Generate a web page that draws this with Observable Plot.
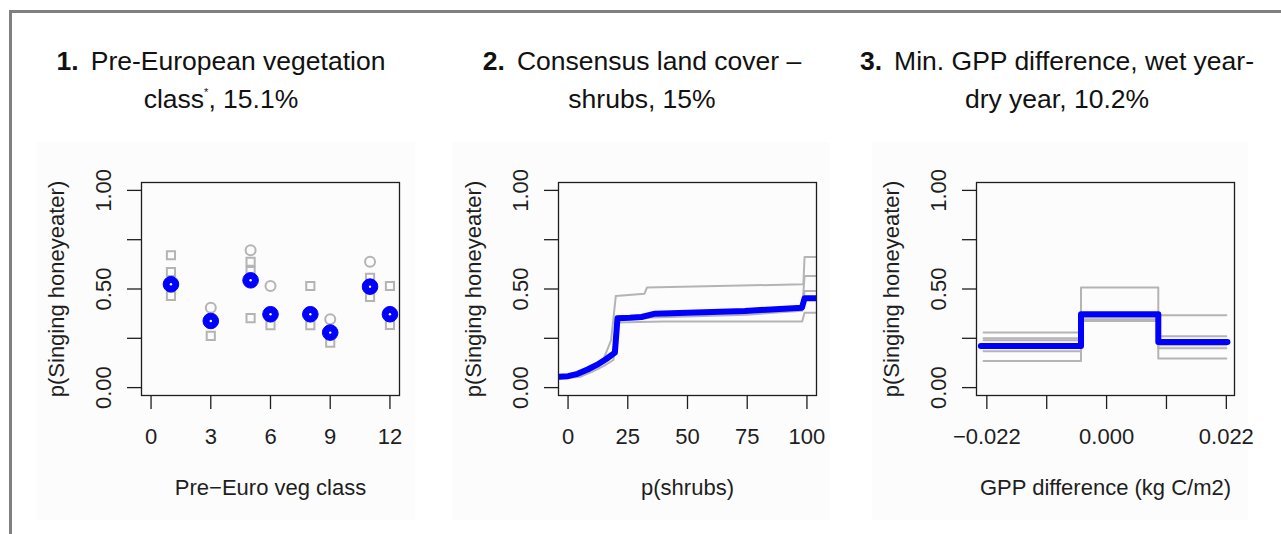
<!DOCTYPE html>
<html><head><meta charset="utf-8">
<script src="https://cdn.jsdelivr.net/npm/d3@7"></script>
<script src="https://cdn.jsdelivr.net/npm/@observablehq/plot@0.6"></script>
<style>
body{margin:0;background:#fff;width:1281px;height:534px;overflow:hidden;position:relative;font-family:"Liberation Sans",Arial,sans-serif;}
#border{position:absolute;left:9px;top:10px;width:1300px;height:560px;border-left:3px solid #808080;border-top:3px solid #808080;}
.bg{position:absolute;top:142px;height:378px;background:#fcfcfc;}
.panel{position:absolute;top:140px;height:390px;overflow:hidden;}
.title{position:absolute;top:42px;width:440px;text-align:center;font-size:26.5px;color:#111;line-height:38px;white-space:nowrap;}
.title b{margin-right:12px;}
.title sup{font-size:11px;vertical-align:baseline;position:relative;top:-12px;}
</style>
</head><body>
<div id="border"></div>
<div class="bg" style="left:37px;width:378px"></div>
<div class="bg" style="left:452px;width:378px"></div>
<div class="bg" style="left:872px;width:376px"></div>
<div class="title" style="left:1px"><b>1.</b>Pre-European vegetation<br>class<sup>*</sup>, 15.1%</div>
<div class="title" style="left:422px"><b>2.</b>Consensus land cover –<br>shrubs, 15%</div>
<div class="title" style="left:837px"><b>3.</b>Min. GPP difference, wet year-<br>dry year, 10.2%</div>
<div class="panel" id="p1" style="left:30px;width:390px"></div>
<div class="panel" id="p2" style="left:447px;width:390px"></div>
<div class="panel" id="p3" style="left:865px;width:400px"></div>
<script>
// ---- shared axis data ----
const yTicks = [0, 0.25, 0.5, 0.75, 1];
const yLabelValues = [0, 0.5, 1];
const yTickLabels = ["0.00", "0.50", "1.00"];
const yTitle = "p(Singing honeyeater)";

// ---- panel 1: Pre-Euro veg class ----
const p1Ticks = [0, 3, 6, 9, 12];
const p1TickLabels = ["0", "3", "6", "9", "12"];
const p1Title = "Pre\u2212Euro veg class";
const p1Class = [1, 3, 5, 6, 8, 9, 11, 12];
const p1Mean = [0.524, 0.338, 0.544, 0.372, 0.372, 0.279, 0.512, 0.372];
const p1SquareX = [1, 1, 1, 3, 5, 5, 5, 6, 8, 8, 9, 11, 11, 12, 12];
const p1SquareY = [0.671, 0.586, 0.465, 0.262, 0.638, 0.591, 0.352, 0.316, 0.515, 0.316, 0.228, 0.557, 0.46, 0.515, 0.318];
const p1CircleX = [3, 5, 6, 9, 11];
const p1CircleY = [0.405, 0.696, 0.515, 0.347, 0.638];

// ---- panel 2: p(shrubs) ----
const p2Ticks = [0, 25, 50, 75, 100];
const p2TickLabels = ["0", "25", "50", "75", "100"];
const p2Title = "p(shrubs)";
const p2MeanX = [-4, 0, 4, 8.4, 12, 16, 19.6, 20.7, 26, 30.8, 36.4, 50, 74, 97.9, 99, 104];
const p2MeanY = [0.055, 0.058, 0.07, 0.093, 0.115, 0.145, 0.177, 0.352, 0.354, 0.358, 0.375, 0.38, 0.389, 0.405, 0.453, 0.453];
const p2Rep1X = [-4, 5, 10, 15, 18, 20, 32, 33, 98.5, 99, 104];
const p2Rep1Y = [0.055, 0.07, 0.10, 0.15, 0.24, 0.465, 0.476, 0.507, 0.524, 0.662, 0.662];
const p2Rep2X = [-4, 5, 10, 15, 19, 20, 40, 98, 99, 104];
const p2Rep2Y = [0.045, 0.055, 0.08, 0.11, 0.14, 0.33, 0.335, 0.335, 0.38, 0.38];
const p2Rep3X = [-4, 5, 10, 15, 19, 20, 35, 75, 98, 99, 104];
const p2Rep3Y = [0.055, 0.065, 0.095, 0.13, 0.17, 0.36, 0.37, 0.38, 0.395, 0.566, 0.566];
const p2Rep4X = [-4, 5, 10, 15, 19, 20, 35, 75, 98, 99, 104];
const p2Rep4Y = [0.05, 0.06, 0.09, 0.125, 0.16, 0.345, 0.355, 0.37, 0.39, 0.49, 0.49];

// ---- panel 3: GPP difference ----
const p3Ticks = [-0.022, -0.011, 0, 0.011, 0.022];
const p3LabelValues = [-0.022, 0, 0.022];
const p3TickLabels = ["\u22120.022", "0.000", "0.022"];
const p3Title = "GPP difference (kg C/m2)";
const p3MeanX = [-0.0231, -0.0047, 0.0095, 0.0222];
const p3MeanY = [0.211, 0.372, 0.231, 0.231];
const p3RepX = [-0.0226, -0.0047, 0.0095, 0.022];
const p3Rep1Y = [0.279, 0.507, 0.367, 0.367];
const p3Rep2Y = [0.135, 0.338, 0.147, 0.147];
const p3Rep3Y = [0.25, 0.355, 0.26, 0.26];
const p3Rep4Y = [0.24, 0.345, 0.20, 0.20];
const p3Rep5Y = [0.185, 0.36, 0.215, 0.215];

const zip = (xs, ys) => xs.map((x, i) => ({x, y: ys[i]}));
const FONT = "'Liberation Sans', Arial, sans-serif";
const INK = "#1e1e1e";
const GREY = "#b4b4b4";
const BLUE = "#0000ff";
const FS = 22;

function panel({width, xDomain, xTicks, xLabelValues, xTickLabels, xTitle, marks}) {
  return Plot.plot({
    width, height: 390,
    marginLeft: 111, marginRight: width - 111 - 258, marginTop: 42, marginBottom: 135,
    x: {domain: xDomain, axis: null},
    y: {domain: [-0.04, 1.04], axis: null},
    style: {fontFamily: FONT, fontSize: FS + "px", background: "transparent", color: INK, overflow: "visible"},
    marks: [
      ...marks,
      Plot.frame({stroke: INK, strokeWidth: 1.3}),
      Plot.axisY(yTicks, {anchor: "left", tickSize: 14, tickFormat: () => "", label: null, stroke: INK, strokeWidth: 1.3}),
      Plot.axisX(xTicks, {anchor: "bottom", tickSize: 14, tickFormat: () => "", label: null, stroke: INK, strokeWidth: 1.3}),
      Plot.text(yLabelValues, {y: d => d, text: (d, i) => yTickLabels[i], frameAnchor: "left", dx: -38, rotate: -90, textAnchor: "middle", lineAnchor: "middle", fontSize: FS, fill: INK}),
      Plot.text([yTitle], {frameAnchor: "left", dx: -85, rotate: -90, textAnchor: "middle", lineAnchor: "middle", fontSize: FS, fill: INK}),
      Plot.text(xLabelValues, {x: d => d, text: (d, i) => xTickLabels[i], frameAnchor: "bottom", dy: 41, textAnchor: "middle", lineAnchor: "middle", fontSize: FS, fill: INK}),
      Plot.text([xTitle], {frameAnchor: "bottom", dy: 92, textAnchor: "middle", lineAnchor: "middle", fontSize: FS, fill: INK})
    ]
  });
}

document.getElementById("p1").append(panel({
  width: 390, xDomain: [-0.48, 12.48], xTicks: p1Ticks, xLabelValues: p1Ticks, xTickLabels: p1TickLabels, xTitle: p1Title,
  marks: [
    Plot.dot(zip(p1SquareX, p1SquareY), {x: "x", y: "y", symbol: "square", r: 4.6, stroke: GREY, strokeWidth: 2, fill: "none"}),
    Plot.dot(zip(p1CircleX, p1CircleY), {x: "x", y: "y", symbol: "circle", r: 5, stroke: GREY, strokeWidth: 2, fill: "none"}),
    Plot.dot(zip(p1Class, p1Mean), {x: "x", y: "y", r: 7.8, fill: BLUE, stroke: BLUE, strokeWidth: 1}),
    Plot.dot(zip(p1Class, p1Mean), {x: "x", y: "y", r: 1.2, fill: "#fff"})
  ]
}));

const p2Reps = [[p2Rep1X, p2Rep1Y], [p2Rep2X, p2Rep2Y], [p2Rep3X, p2Rep3Y], [p2Rep4X, p2Rep4Y]];
document.getElementById("p2").append(panel({
  width: 390, xDomain: [-4, 104], xTicks: p2Ticks, xLabelValues: p2Ticks, xTickLabels: p2TickLabels, xTitle: p2Title,
  marks: [
    ...p2Reps.map(([xs, ys]) => Plot.line(zip(xs, ys), {x: "x", y: "y", stroke: GREY, strokeWidth: 2, clip: "frame"})),
    Plot.line(zip(p2MeanX, p2MeanY), {x: "x", y: "y", stroke: BLUE, strokeWidth: 6, clip: "frame", strokeLinejoin: "round"})
  ]
}));

const p3Reps = [p3Rep1Y, p3Rep2Y, p3Rep3Y, p3Rep4Y, p3Rep5Y];
document.getElementById("p3").append(panel({
  width: 400, xDomain: [-0.0239, 0.0235], xTicks: p3Ticks, xLabelValues: p3LabelValues, xTickLabels: p3TickLabels, xTitle: p3Title,
  marks: [
    ...p3Reps.map(ys => Plot.line(zip(p3RepX, ys), {x: "x", y: "y", curve: "step-after", stroke: GREY, strokeWidth: 2, clip: "frame"})),
    Plot.line(zip(p3MeanX, p3MeanY), {x: "x", y: "y", curve: "step-after", stroke: BLUE, strokeWidth: 6, clip: "frame", strokeLinejoin: "round", strokeLinecap: "round"})
  ]
}));
</script>
</body></html>
